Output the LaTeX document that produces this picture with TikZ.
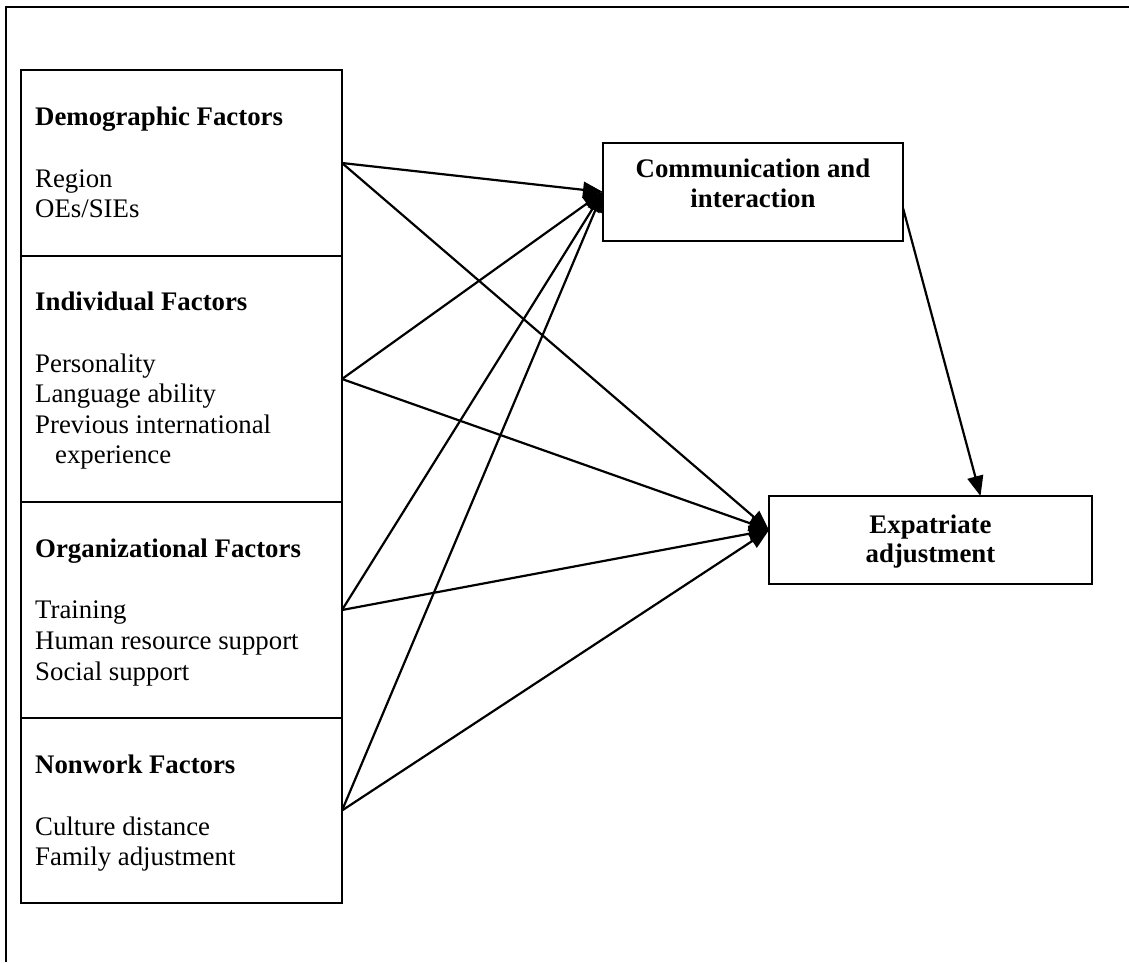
\documentclass[tikz,border=0pt]{standalone}
\usepackage{fontspec}
\setmainfont{Liberation Serif}
\usetikzlibrary{arrows.meta}
\begin{document}
\begin{tikzpicture}[x=1pt,y=-1pt,
  box/.style={draw, line width=2.2pt, rectangle, anchor=north west, inner sep=0pt, outer sep=0pt},
  txt/.style={anchor=base west, inner sep=0pt, font=\fontsize{26.8}{30}\selectfont},
  htxt/.style={txt, font=\fontsize{26.8}{30}\selectfont\bfseries},
  ctxt/.style={anchor=base, inner sep=0pt, font=\fontsize{26.8}{30}\selectfont\bfseries},
  arr/.style={-{Triangle[length=20pt,width=16pt]}, line width=2.2pt}]
\useasboundingbox (0,0) rectangle (1129,962);
% outer frame (cropped)
\draw[line width=2.4pt] (6,962) -- (6,7) -- (1129,7);
% left column of factor boxes
\node[box, minimum width=321pt, minimum height=186pt] (demo) at (21,70) {};
\node[box, minimum width=321pt, minimum height=246pt] (indiv) at (21,256) {};
\node[box, minimum width=321pt, minimum height=216pt] (org) at (21,502) {};
\node[box, minimum width=321pt, minimum height=185pt] (nonw) at (21,718) {};
% texts
\node[htxt] (d0) at (35,125) {Demographic Factors};
\node[txt] (d1) at (35,187) {Region};
\node[txt] (d2) at (35,217) {OEs/SIEs};
\node[htxt] (i0) at (35,310) {Individual Factors};
\node[txt] (i1) at (35,372) {Personality};
\node[txt] (i2) at (35,402) {Language ability};
\node[txt] (i3) at (35,433) {Previous international};
\node[txt] (i4) at (55,463) {experience};
\node[htxt] (o0) at (35,557) {Organizational Factors};
\node[txt] (o1) at (35,618) {Training};
\node[txt] (o2) at (35,649) {Human resource support};
\node[txt] (o3) at (35,680) {Social support};
\node[htxt] (n0) at (35,773) {Nonwork Factors};
\node[txt] (n1) at (35,835) {Culture distance};
\node[txt] (n2) at (35,865) {Family adjustment};
% outcome boxes
\node[box, line width=1.8pt, minimum width=300pt, minimum height=98pt] (comm) at (603,143) {};
\node[ctxt] (c1) at (753,177) {Communication and};
\node[ctxt] (c2) at (753,207) {interaction};
\node[box, line width=1.6pt, minimum width=323pt, minimum height=88pt] (expat) at (769,496) {};
\node[ctxt] (e1) at (930.5,533) {Expatriate};
\node[ctxt] (e2) at (930.5,562) {adjustment};
% connector end points
\coordinate (ein) at ([yshift=10pt]expat.west);
\coordinate (cout) at ([yshift=-16pt]comm.east);
\coordinate (ein2) at ([xshift=50pt]expat.north);
% arrows
\draw[arr] (demo.east) -- (comm.west);
\draw[arr] (indiv.east) -- (comm.west);
\draw[arr] (org.east) -- (comm.west);
\draw[arr] (nonw.east) -- (comm.west);
\draw[arr] (demo.east) -- (ein);
\draw[arr] (indiv.east) -- (ein);
\draw[arr] (org.east) -- (ein);
\draw[arr] (nonw.east) -- (ein);
\draw[arr] (cout) -- (ein2);
\end{tikzpicture}
\end{document}
